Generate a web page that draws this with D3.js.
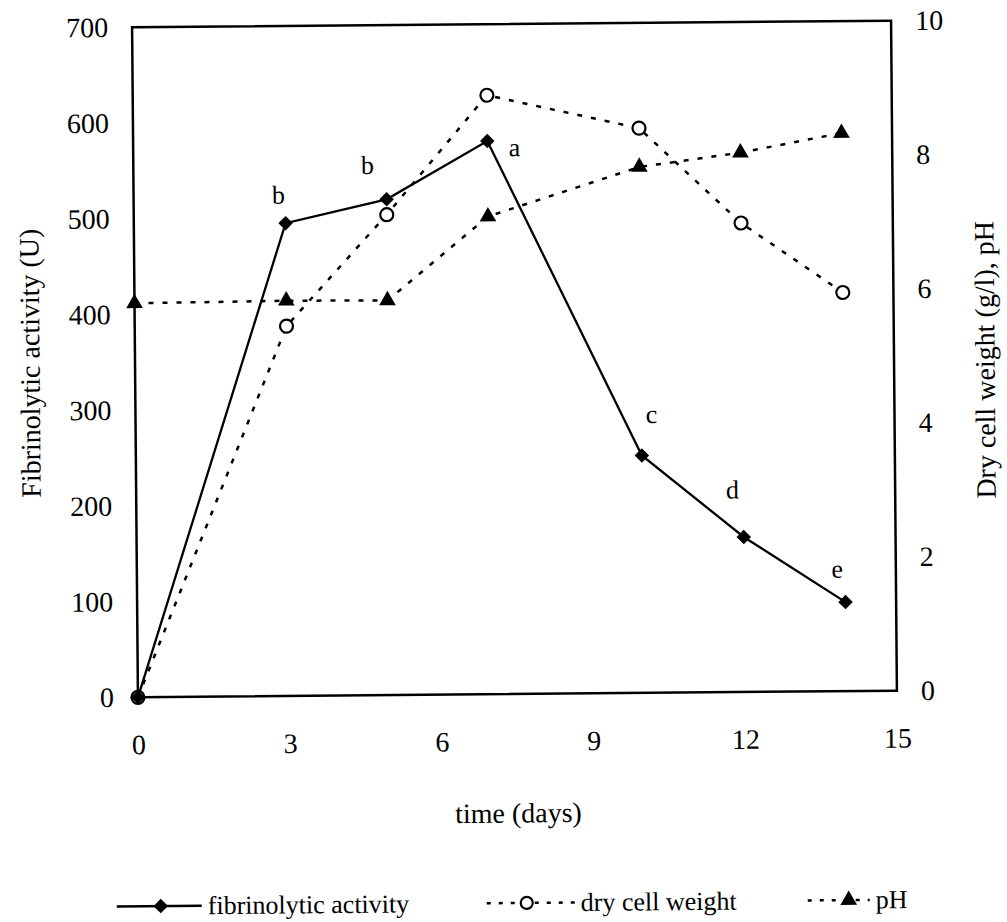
<!DOCTYPE html>
<html>
<head>
<meta charset="utf-8">
<script src="https://cdn.jsdelivr.net/npm/d3@7"></script>
<style>
  body { margin: 0; background: #fff; }
  text { font-family: "Liberation Serif", "Times New Roman", serif; fill: #000; }
</style>
</head>
<body>
<div id="chart"></div>
<script>
// data
var days = [0, 3, 5, 7, 10, 12, 14];
var fibrinolytic = [0, 494, 518, 578, 248, 162, 93];
var dryWeight = [0, 5.52, 7.17, 8.94, 8.43, 7.0, 5.95];
var pH = [5.88, 5.9, 5.89, 7.13, 7.85, 8.05, 8.33];
var letters = ["", "b", "b", "a", "c", "d", "e"];
var xTicks = [0, 3, 6, 9, 12, 15];
var leftTicks = [0, 100, 200, 300, 400, 500, 600, 700];
var rightTicks = [0, 2, 4, 6, 8, 10];

// where each significance letter sits, relative to its point
var letterOffsets = [[0, 0], [-7, -28], [-19, -34], [27, 7], [10, -41], [-11, -47], [-8, -33]];

var W = 1007, H = 922;
var plotL = 135, plotR = 894, plotT = 24, plotB = 694;

var svg = d3.select("#chart").append("svg")
    .attr("width", W)
    .attr("height", H);

// the scan is tilted a little
var g = svg.append("g")
    .attr("transform", "rotate(-0.5," + ((plotL + plotR) / 2) + "," + ((plotT + plotB) / 2) + ")");

var x = d3.scaleLinear().domain([0, 15]).range([plotL, plotR]);
var yL = d3.scaleLinear().domain([0, 700]).range([plotB, plotT]);
var yR = d3.scaleLinear().domain([0, 10]).range([plotB, plotT]);

// frame
g.append("rect")
    .attr("x", plotL).attr("y", plotT)
    .attr("width", plotR - plotL).attr("height", plotB - plotT)
    .attr("fill", "none").attr("stroke", "#000").attr("stroke-width", 2.5);

// axes (no visible ticks)
var xAxis = g.append("g").attr("transform", "translate(0," + plotB + ")")
    .call(d3.axisBottom(x).tickValues(xTicks).tickSize(0).tickPadding(37));
var lAxis = g.append("g").attr("transform", "translate(" + plotL + ",0)")
    .call(d3.axisLeft(yL).tickValues(leftTicks).tickSize(0).tickPadding(24));
var rAxis = g.append("g").attr("transform", "translate(" + plotR + ",0)")
    .call(d3.axisRight(yR).tickValues(rightTicks).tickSize(0).tickPadding(24));

[xAxis, lAxis, rAxis].forEach(function(a) {
    a.select(".domain").remove();
    a.selectAll("text")
        .style("font-family", '"Liberation Serif", "Times New Roman", serif')
        .style("font-size", "28px");
});

// axis titles
g.append("text")
    .attr("x", (plotL + plotR) / 2).attr("y", 813)
    .attr("text-anchor", "middle").attr("dominant-baseline", "central")
    .style("font-size", "28px")
    .text("time (days)");
g.append("text")
    .attr("transform", "translate(30," + ((plotT + plotB) / 2) + ") rotate(-90)")
    .attr("text-anchor", "middle").attr("dominant-baseline", "central")
    .style("font-size", "28px")
    .text("Fibrinolytic activity (U)");
g.append("text")
    .attr("transform", "translate(985," + ((plotT + plotB) / 2 + 5) + ") rotate(-90)")
    .attr("text-anchor", "middle").attr("dominant-baseline", "central")
    .style("font-size", "28px")
    .text("Dry cell weight (g/l), pH");

var dash = "5,9";

var lineL = d3.line().x(function(d, i) { return x(days[i]); }).y(function(d) { return yL(d); });
var lineR = d3.line().x(function(d, i) { return x(days[i]); }).y(function(d) { return yR(d); });

// dotted series first
g.append("path").datum(pH)
    .attr("d", lineR).attr("fill", "none")
    .attr("stroke", "#000").attr("stroke-width", 2.5).attr("stroke-dasharray", dash);
g.append("path").datum(dryWeight)
    .attr("d", lineR).attr("fill", "none")
    .attr("stroke", "#000").attr("stroke-width", 2.5).attr("stroke-dasharray", dash);
g.append("path").datum(fibrinolytic)
    .attr("d", lineL).attr("fill", "none")
    .attr("stroke", "#000").attr("stroke-width", 2.3);

var diamond = d3.symbol().type(d3.symbolSquare).size(105);
var triangle = d3.symbol().type(d3.symbolTriangle).size(120);

g.selectAll(".tri").data(pH).enter()
    .append("path").attr("class", "tri")
    .attr("d", triangle)
    .attr("transform", function(d, i) { return "translate(" + x(days[i]) + "," + yR(d) + ")"; })
    .attr("fill", "#000");

g.selectAll(".circ").data(dryWeight).enter()
    .append("circle").attr("class", "circ")
    .attr("cx", function(d, i) { return x(days[i]); })
    .attr("cy", function(d) { return yR(d); })
    .attr("r", 6.5)
    .attr("fill", "#fff").attr("stroke", "#000").attr("stroke-width", 2.2);

g.selectAll(".dia").data(fibrinolytic).enter()
    .append("path").attr("class", "dia")
    .attr("d", diamond)
    .attr("transform", function(d, i) { return "translate(" + x(days[i]) + "," + yL(d) + ") rotate(45)"; })
    .attr("fill", "#000");

g.selectAll(".letter").data(letters).enter()
    .append("text").attr("class", "letter")
    .attr("x", function(d, i) { return x(days[i]) + letterOffsets[i][0]; })
    .attr("y", function(d, i) { return yL(fibrinolytic[i]) + letterOffsets[i][1]; })
    .attr("text-anchor", "middle").attr("dominant-baseline", "central")
    .style("font-size", "26px")
    .text(function(d) { return d; });

// legend
var legend = [
    { label: "fibrinolytic activity", x0: 112, x1: 197, mark: "dia", dashed: false },
    { label: "dry cell weight", x0: 482, x1: 570, mark: "circ", dashed: true },
    { label: "pH", x0: 803, x1: 865, mark: "tri", dashed: true }
];
var ly = 903;
var lg = g.selectAll(".leg").data(legend).enter().append("g").attr("class", "leg");
lg.append("line")
    .attr("x1", function(d) { return d.x0; }).attr("x2", function(d) { return d.x1; })
    .attr("y1", ly).attr("y2", ly)
    .attr("stroke", "#000").attr("stroke-width", function(d) { return d.dashed ? 2.5 : 2.3; })
    .attr("stroke-dasharray", function(d) { return d.dashed ? "4,8" : null; });
lg.each(function(d) {
    var sel = d3.select(this);
    var cx = d.mark === "dia" ? 156 : d.mark === "circ" ? 522 : 844;
    if (d.mark === "dia") {
        sel.append("path").attr("d", diamond)
            .attr("transform", "translate(" + cx + "," + ly + ") rotate(45)").attr("fill", "#000");
    } else if (d.mark === "circ") {
        sel.append("circle").attr("cx", cx).attr("cy", ly).attr("r", 6)
            .attr("fill", "#fff").attr("stroke", "#000").attr("stroke-width", 2.2);
    } else {
        sel.append("path").attr("d", triangle)
            .attr("transform", "translate(" + cx + "," + ly + ")").attr("fill", "#000");
    }
    sel.append("text")
        .attr("x", d.x1 + 6).attr("y", ly)
        .attr("dominant-baseline", "central")
        .style("font-size", "26px")
        .text(d.label);
});
</script>
</body>
</html>
